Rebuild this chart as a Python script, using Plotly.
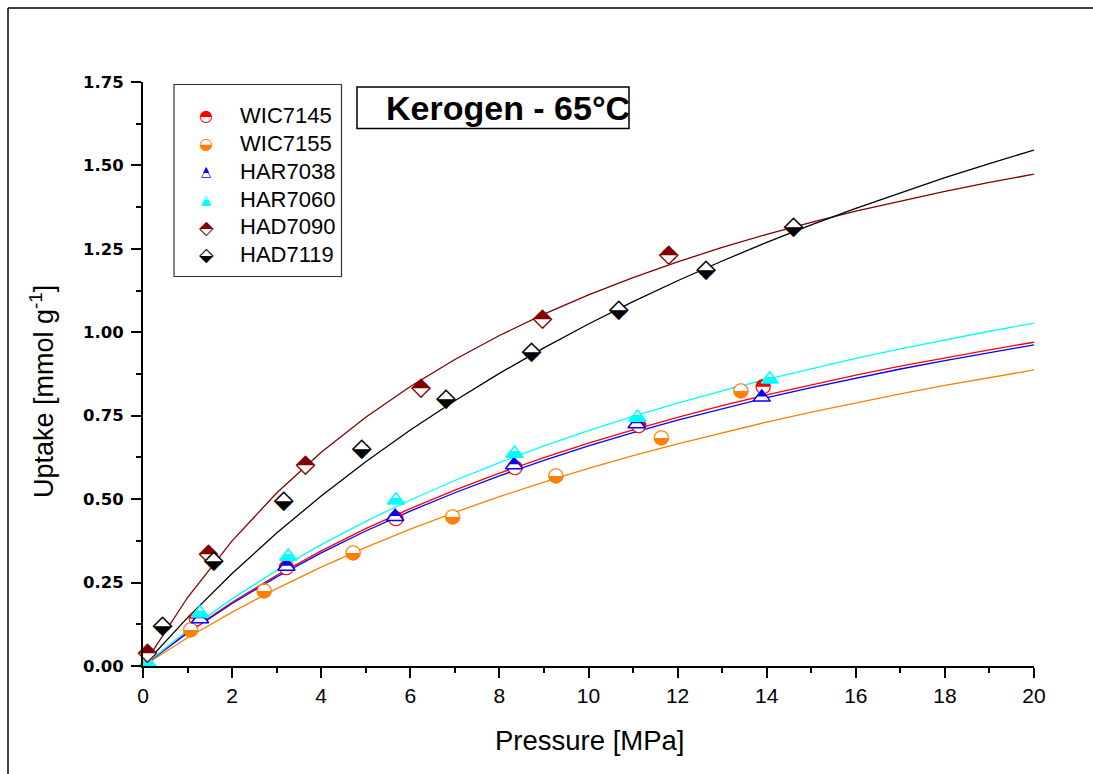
import plotly.graph_objects as go

# ---------------- data ----------------
fit_pressure = list(range(0, 21))

fit_wic7145 = [0, 0.1010, 0.1912, 0.2721, 0.3451, 0.4114, 0.4718, 0.5270, 0.5778, 0.6245, 0.6678,
               0.7079, 0.7452, 0.7800, 0.8125, 0.8430, 0.8715, 0.8984, 0.9237, 0.9476, 0.9702]
fit_wic7155 = [0, 0.0847, 0.1616, 0.2319, 0.2962, 0.3554, 0.4100, 0.4606, 0.5075, 0.5512, 0.5920,
               0.6301, 0.6658, 0.6994, 0.7310, 0.7607, 0.7889, 0.8154, 0.8406, 0.8645, 0.8872]
fit_har7038 = [0, 0.0989, 0.1874, 0.2670, 0.3390, 0.4045, 0.4643, 0.5192, 0.5696, 0.6162, 0.6593,
               0.6993, 0.7366, 0.7713, 0.8039, 0.8344, 0.8630, 0.8900, 0.9154, 0.9394, 0.9622]
fit_har7060 = [0, 0.1062, 0.2011, 0.2864, 0.3635, 0.4335, 0.4974, 0.5559, 0.6097, 0.6593, 0.7052,
               0.7478, 0.7875, 0.8245, 0.8591, 0.8915, 0.9220, 0.9506, 0.9776, 1.0031, 1.0272]
fit_had7090 = [0, 0.2052, 0.3751, 0.5182, 0.6403, 0.7457, 0.8377, 0.9186, 0.9904, 1.0544, 1.1120,
               1.1639, 1.2111, 1.2541, 1.2934, 1.3296, 1.3630, 1.3938, 1.4224, 1.4490, 1.4739]
fit_had7119 = [0, 0.1450, 0.2772, 0.3982, 0.5095, 0.6121, 0.7070, 0.7950, 0.8769, 0.9533, 1.0248,
               1.0917, 1.1545, 1.2136, 1.2693, 1.3218, 1.3716, 1.4186, 1.4633, 1.5057, 1.5459]

p_wic7145 = [1.20, 3.22, 5.68, 8.35, 11.13, 13.92]
u_wic7145 = [0.140, 0.293, 0.440, 0.594, 0.720, 0.837]
p_wic7155 = [1.07, 2.72, 4.72, 6.95, 9.27, 11.64, 13.42]
u_wic7155 = [0.108, 0.225, 0.338, 0.446, 0.569, 0.684, 0.824]
p_har7038 = [1.28, 3.22, 5.66, 8.33, 11.08, 13.89]
u_har7038 = [0.141, 0.298, 0.447, 0.602, 0.725, 0.805]
p_har7060 = [0.10, 1.28, 3.26, 5.68, 8.34, 11.10, 14.07]
u_har7060 = [0.010, 0.158, 0.328, 0.497, 0.637, 0.745, 0.859]
p_had7090 = [0.10, 1.47, 3.65, 6.24, 8.97, 11.80]
u_had7090 = [0.038, 0.333, 0.602, 0.833, 1.037, 1.229]
p_had7119 = [0.44, 1.59, 3.16, 4.91, 6.80, 8.72, 10.68, 12.64, 14.60]
u_had7119 = [0.118, 0.313, 0.492, 0.649, 0.799, 0.939, 1.065, 1.184, 1.313]

series_names = ["WIC7145", "WIC7155", "HAR7038", "HAR7060", "HAD7090", "HAD7119"]
series_colors = ["#FF0000", "#FF8000", "#0000FF", "#00FFFF", "#800000", "#000000"]

x_title = "Pressure [MPa]"
y_title = "Uptake [mmol g<sup>-1</sup>]"
chart_title = "<b>Kerogen - 65°C</b>"

# ---------------- figure ----------------
W, H = 1093, 774
ML, MR, MT, MB = 143, 59, 82, 108
PW, PH = W - ML - MR, H - MT - MB


def pxx(x):
    return (x - ML) / PW


def pxy(y):
    return (H - MB - y) / PH


fig = go.Figure()

fits = [fit_wic7145, fit_wic7155, fit_har7038, fit_har7060, fit_had7090, fit_had7119]
for fy, c in zip(fits, series_colors):
    fig.add_trace(go.Scatter(x=fit_pressure, y=fy, mode="lines",
                             line=dict(color=c, width=1.3), hoverinfo="skip"))

GLYPH_FONT = "DejaVu Sans"


def glyph_points(x, y, glyph, color, size, bg_symbol, bg_size):
    fig.add_trace(go.Scatter(x=x, y=y, mode="markers", cliponaxis=False, hoverinfo="skip",
                             marker=dict(symbol=bg_symbol, size=bg_size, color="white",
                                         line=dict(width=0))))
    fig.add_trace(go.Scatter(x=x, y=y, mode="text", cliponaxis=False, hoverinfo="skip",
                             text=[glyph] * len(x), textposition="middle center",
                             textfont=dict(family=GLYPH_FONT, size=size, color=color)))


def triangle_points(x, y, color, size, top_filled, frac):
    # frac: share of the height taken by the top (similar) sub-triangle
    top_size = size * frac
    shift = size / 2 * (1 - frac)
    if top_filled:
        base_col, top_col = "white", color
    else:
        base_col, top_col = color, "white"
    fig.add_trace(go.Scatter(x=x, y=y, mode="markers", cliponaxis=False, hoverinfo="skip",
                             marker=dict(symbol="triangle-up", size=size, color=base_col,
                                         line=dict(width=0))))
    fig.add_trace(go.Scatter(x=x, y=y, mode="markers", cliponaxis=False, hoverinfo="skip",
                             marker=dict(symbol="triangle-down", angle=180, standoff=shift,
                                         size=top_size, color=top_col, line=dict(width=0))))
    fig.add_trace(go.Scatter(x=x, y=y, mode="markers", cliponaxis=False, hoverinfo="skip",
                             marker=dict(symbol="triangle-up-open", size=size, color=color,
                                         line=dict(width=1.5, color=color))))


glyph_points(p_wic7145, u_wic7145, "\u25d3", series_colors[0], 20, "circle", 13)
glyph_points(p_wic7155, u_wic7155, "\u25d2", series_colors[1], 20, "circle", 13)
triangle_points(p_har7038, u_har7038, series_colors[2], 15, True, 0.6)
triangle_points(p_har7060, u_har7060, series_colors[3], 15, False, 0.45)
glyph_points(p_had7090, u_had7090, "\u2b18", series_colors[4], 26, "diamond", 14)
glyph_points(p_had7119, u_had7119, "\u2b19", series_colors[5], 26, "diamond", 14)

# ---------------- layout ----------------
AX_FONT = "Arial, Liberation Sans, sans-serif"
fig.update_layout(
    width=W, height=H,
    margin=dict(l=ML, r=MR, t=MT, b=MB, autoexpand=False),
    paper_bgcolor="white", plot_bgcolor="white",
    showlegend=False,
    xaxis=dict(range=[0, 20], tickmode="linear", tick0=0, dtick=2,
               ticks="outside", ticklen=10, tickwidth=2, tickcolor="black",
               showline=True, linewidth=2, linecolor="black",
               showgrid=False, zeroline=False,
               minor=dict(dtick=1, ticks="outside", ticklen=5, tickwidth=1.5,
                          tickcolor="black", showgrid=False),
               tickfont=dict(family="Liberation Sans Narrow, Arial Narrow, Arial", size=21,
                             color="black")),
    yaxis=dict(range=[0, 1.75], tickmode="linear", tick0=0, dtick=0.25, tickformat=".2f",
               ticks="outside", ticklen=10, tickwidth=2, tickcolor="black",
               showline=True, linewidth=2, linecolor="black",
               showgrid=False, zeroline=False, ticklabelstandoff=4,
               minor=dict(dtick=0.125, ticks="outside", ticklen=5, tickwidth=1.5,
                          tickcolor="black", showgrid=False),
               tickfont=dict(family="DejaVu Sans", size=16.5, color="black", weight="bold")),
)

shapes = []
# outer frame: only its top and left edges fall inside the picture
shapes.append(dict(type="line", xref="paper", yref="paper",
                   x0=pxx(8), x1=pxx(W + 20), y0=pxy(8), y1=pxy(8),
                   line=dict(color="black", width=1.5)))
shapes.append(dict(type="line", xref="paper", yref="paper",
                   x0=pxx(8), x1=pxx(8), y0=pxy(8), y1=pxy(H + 20),
                   line=dict(color="black", width=1.5)))
# legend box
shapes.append(dict(type="rect", xref="paper", yref="paper",
                   x0=pxx(174), x1=pxx(341.5), y0=pxy(276.5), y1=pxy(84.5),
                   line=dict(color="#333333", width=1.2)))
# title box
shapes.append(dict(type="rect", xref="paper", yref="paper",
                   x0=pxx(357), x1=pxx(629), y0=pxy(128.5), y1=pxy(87),
                   line=dict(color="black", width=1.5)))
fig.update_layout(shapes=shapes)

annotations = []
annotations.append(dict(xref="paper", yref="paper", x=pxx(384), y=pxy(108),
                        xanchor="left", yanchor="middle", showarrow=False,
                        text=chart_title,
                        font=dict(family=AX_FONT, size=34, color="black")))
annotations.append(dict(xref="paper", yref="paper", x=pxx(589.5), y=pxy(740),
                        xanchor="center", yanchor="middle", showarrow=False,
                        text=x_title,
                        font=dict(family=AX_FONT, size=27.5, color="black")))
annotations.append(dict(xref="paper", yref="paper", x=pxx(42), y=pxy(392),
                        xanchor="center", yanchor="middle", showarrow=False,
                        text=y_title, textangle=-90,
                        font=dict(family=AX_FONT, size=27, color="black")))

row_y = [115.7, 143.3, 171.7, 199.0, 226.7, 254.3]
legend_glyphs = ["\u25d3", "\u25d2", None, None, "\u2b18", "\u2b19"]
LEG_X = pxx(206)


def leg_glyph(y, text, size, color, yshift=0):
    annotations.append(dict(xref="paper", yref="paper", x=LEG_X, y=y,
                            xanchor="center", yanchor="middle", showarrow=False,
                            text=text, yshift=yshift,
                            font=dict(family=GLYPH_FONT, size=size, color=color)))


for i, (name, col) in enumerate(zip(series_names, series_colors)):
    yy = pxy(row_y[i])
    annotations.append(dict(xref="paper", yref="paper", x=pxx(238), y=yy,
                            xanchor="left", yanchor="middle", showarrow=False, text=name,
                            font=dict(family=AX_FONT, size=22, color="black")))
    g = legend_glyphs[i]
    if g is not None:
        leg_glyph(yy, g, 16 if i < 2 else 19, col)
    elif i == 2:
        # top part filled
        leg_glyph(yy, "\u25b2", 8, col, yshift=2.1)
        leg_glyph(yy, "\u25b3", 13, col)
    else:
        # bottom part filled
        leg_glyph(yy, "\u25b2", 13, col)
        leg_glyph(yy, "\u25b2", 6, "white", yshift=3.0)
        leg_glyph(yy, "\u25b3", 13, col)
fig.update_layout(annotations=annotations)

fig.write_html("out.html")
